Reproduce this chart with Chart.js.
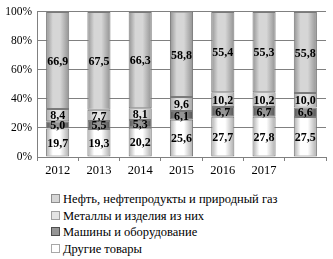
<!DOCTYPE html>
<html>
<head>
<meta charset="utf-8">
<script src="https://cdn.jsdelivr.net/npm/chart.js@4"></script>
<style>
  html, body { margin: 0; padding: 0; background: #fff; }
  #wrap { width: 333px; height: 259px; position: relative; }
  #grafico { display: block; }
  #legenda { position: absolute; left: 51px; top: 191px; font-family: "Liberation Serif", serif; font-size: 12.5px; color: #000; }
  #legenda div { height: 16.6px; line-height: 16.6px; white-space: nowrap; }
  #legenda span { display: inline-block; width: 7px; height: 7px; margin-right: 3px; border: 1px solid #888; vertical-align: 0px; }
</style>
</head>
<body>
<div id="wrap">
  <canvas id="grafico" width="333" height="185"></canvas>
  <div id="legenda"></div>
</div>
<script>
// Годы (последняя категория без подписи)
const anos = ['2012', '2013', '2014', '2015', '2016', '2017', ''];

// Доли, %
const outrosBens = [19.7, 19.3, 20.2, 25.6, 27.7, 27.8, 27.5];
const maquinas = [5.0, 5.5, 5.3, 6.1, 6.7, 6.7, 6.6];
const metais = [8.4, 7.7, 8.1, 9.6, 10.2, 10.2, 10.0];
const petroleo = [66.9, 67.5, 66.3, 58.8, 55.4, 55.3, 55.8];

const ticksY = ['0%', '20%', '40%', '60%', '80%', '100%'];

const nomes = ['Другие товары', 'Машины и оборудование', 'Металлы и изделия из них', 'Нефть, нефтепродукты и природный газ'];
// [край, середина]
const tons = [['#a8a8a8', '#ffffff'], ['#4e4e4e', '#959595'], ['#a0a0a0', '#e4e4e4'], ['#8e8e8e', '#d6d6d6']];

function gradiente(idx) {
    return function (context) {
        const chart = context.chart;
        if (!chart.chartArea || context.dataIndex === undefined) return tons[idx][1];
        const x = chart.scales.x.getPixelForValue(context.dataIndex);
        const w = 12;
        const g = chart.ctx.createLinearGradient(x - w, 0, x + w, 0);
        g.addColorStop(0, tons[idx][0]);
        g.addColorStop(0.3, tons[idx][1]);
        g.addColorStop(0.6, tons[idx][1]);
        g.addColorStop(1, tons[idx][0]);
        return g;
    };
}

const series = [outrosBens, maquinas, metais, petroleo];

const rotulos = {
    id: 'rotulos',
    afterDatasetsDraw(chart) {
        const ctx = chart.ctx;
        ctx.save();
        ctx.font = 'bold 12px "Liberation Serif", serif';
        ctx.fillStyle = '#000';
        ctx.textAlign = 'center';
        ctx.textBaseline = 'middle';
        chart.data.datasets.forEach((ds, i) => {
            chart.getDatasetMeta(i).data.forEach((bar, j) => {
                const p = bar.getCenterPoint();
                ctx.fillText(ds.data[j].toFixed(1).replace('.', ','), p.x, p.y + 1);
            });
        });
        ctx.restore();
    }
};

new Chart(document.getElementById('grafico'), {
    type: 'bar',
    data: {
        labels: anos,
        datasets: series.map((d, i) => ({
            label: nomes[i],
            data: d,
            backgroundColor: gradiente(i),
            borderColor: '#7a7a7a',
            borderWidth: 1,
            borderSkipped: false,
            barPercentage: 0.56,
            categoryPercentage: 1
        }))
    },
    options: {
        responsive: false,
        animation: false,
        layout: { padding: { top: 7, right: 7, left: 0, bottom: 0 } },
        plugins: {
            legend: { display: false },
            tooltip: { enabled: false }
        },
        scales: {
            x: {
                stacked: true,
                grid: { drawOnChartArea: false, drawTicks: true, tickLength: 4, color: '#808080' },
                border: { color: '#808080' },
                ticks: { color: '#000', font: { family: '"Liberation Serif", serif', size: 12.5 }, padding: 2 },
                afterFit(scale) { scale.height = 28; }
            },
            y: {
                stacked: true,
                min: 0,
                max: 100,
                grid: { color: '#808080', drawTicks: false },
                border: { color: '#808080' },
                ticks: {
                    stepSize: 20,
                    color: '#000',
                    padding: 5,
                    font: { family: '"Liberation Serif", serif', size: 11.5 },
                    callback: function (v) { return ticksY[v / 20]; }
                },
                afterFit(scale) { scale.width = 37; }
            }
        }
    },
    plugins: [rotulos]
});

// Легенда (обратный порядок)
const legenda = document.getElementById('legenda');
for (let i = nomes.length - 1; i >= 0; i--) {
    const linha = document.createElement('div');
    const caixa = document.createElement('span');
    caixa.style.background = tons[i][1];
    caixa.style.borderColor = tons[i][0];
    linha.appendChild(caixa);
    linha.appendChild(document.createTextNode(nomes[i]));
    legenda.appendChild(linha);
}
</script>
</body>
</html>
